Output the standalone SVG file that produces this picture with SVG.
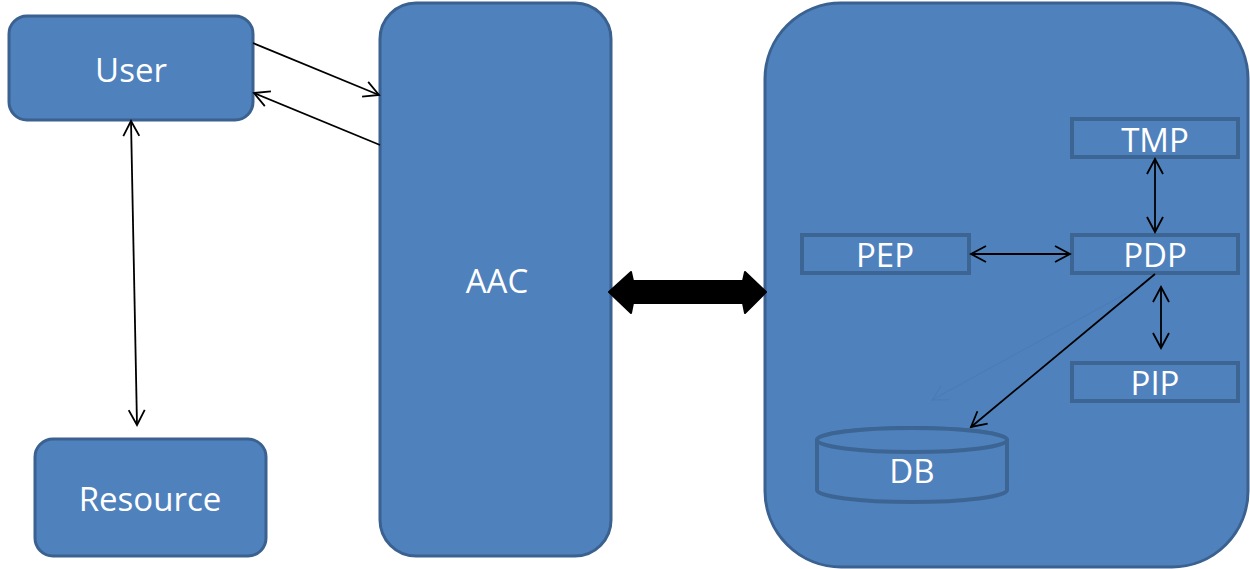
<svg xmlns="http://www.w3.org/2000/svg" width="1250" height="569" viewBox="0 0 1250 569">
  <defs>
    <style>
      .box { fill: #4F81BD; stroke: #3A6190; stroke-width: 3; }
      .inner { fill: #4F81BD; stroke: #3D6593; stroke-width: 4; }
      .lbl { font-family: "Open Sans", "Liberation Sans", sans-serif; font-size: 33px; fill: #FFFFFF; text-anchor: middle; }
      .conn { fill: none; stroke: #000000; stroke-width: 1.8; }
    </style>
    <marker id="open" viewBox="0 0 18 18" refX="16" refY="9" markerWidth="18" markerHeight="18" markerUnits="userSpaceOnUse" orient="auto-start-reverse">
      <path d="M1,1 L16,9 L1,17" fill="none" stroke="#000" stroke-width="1.8"/>
    </marker>
    <marker id="faint" viewBox="0 0 18 18" refX="16" refY="9" markerWidth="18" markerHeight="18" markerUnits="userSpaceOnUse" orient="auto">
      <path d="M1,1 L16,9 L1,17" fill="none" stroke="#4A7BB6" stroke-width="1"/>
    </marker>
  </defs>

  <g id="user">
    <rect class="box" x="9" y="16" width="244" height="104" rx="18"/>
    <text class="lbl" x="131" y="82">User</text>
  </g>

  <g id="resource">
    <rect class="box" x="35" y="439" width="231" height="117" rx="18"/>
    <text class="lbl" x="150" y="511">Resource</text>
  </g>

  <g id="aac">
    <rect class="box" x="380" y="3" width="231" height="553" rx="36"/>
    <text class="lbl" x="497" y="293">AAC</text>
  </g>

  <g id="domain">
    <rect class="box" x="765" y="3" width="483" height="564" rx="76"/>
  </g>

  <g id="tmp">
    <rect class="inner" x="1072" y="119" width="166" height="38"/>
    <text class="lbl" x="1155" y="152">TMP</text>
  </g>

  <g id="pep">
    <rect class="inner" x="802" y="235" width="167" height="38"/>
    <text class="lbl" x="885" y="267">PEP</text>
  </g>

  <g id="pdp">
    <rect class="inner" x="1072" y="235" width="166" height="38"/>
    <text class="lbl" x="1155" y="267">PDP</text>
  </g>

  <g id="pip">
    <rect class="inner" x="1072" y="363" width="166" height="38"/>
    <text class="lbl" x="1155" y="395">PIP</text>
  </g>

  <g id="db">
    <path class="inner" d="M817,440 L817,490 A95,12 0 0 0 1007,490 L1007,440 A95,12 0 0 0 817,440 Z"/>
    <ellipse class="inner" cx="912" cy="440" rx="95" ry="12"/>
    <text class="lbl" x="912" y="483">DB</text>
  </g>

  <g id="connectors">
    <line class="conn" x1="253" y1="43" x2="379" y2="95" marker-end="url(#open)"/>
    <line class="conn" x1="380" y1="145" x2="254" y2="93" marker-end="url(#open)"/>
    <line class="conn" x1="131" y1="121" x2="137" y2="425" marker-start="url(#open)" marker-end="url(#open)"/>
    <path d="M609,292 L631,272 L633,281 L743,281 L745,272 L766,292 L745,313 L743,303 L633,303 L631,313 Z" fill="#000" stroke="#000" stroke-width="2" stroke-linejoin="round"/>
    <line class="conn" x1="1155" y1="159" x2="1155" y2="232" marker-start="url(#open)" marker-end="url(#open)"/>
    <line class="conn" x1="971" y1="254" x2="1070" y2="254" marker-start="url(#open)" marker-end="url(#open)"/>
    <line class="conn" x1="1161" y1="287" x2="1161" y2="348" marker-start="url(#open)" marker-end="url(#open)"/>
    <line class="conn" x1="1155" y1="274" x2="971" y2="427" marker-end="url(#open)"/>
    <line x1="1127" y1="293" x2="932" y2="400" stroke="#4A7BB6" stroke-width="1" marker-end="url(#faint)"/>
  </g>
</svg>
